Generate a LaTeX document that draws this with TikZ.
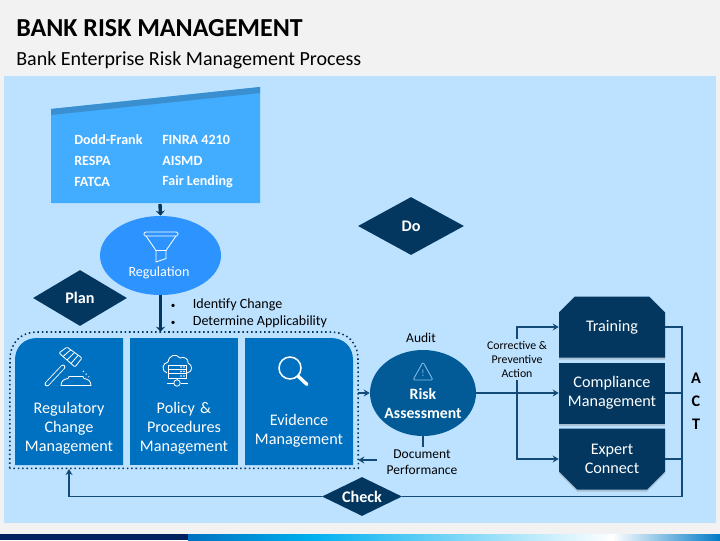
\documentclass[tikz,border=0pt]{standalone}
\usepackage{fontspec}
\setmainfont{Carlito}
\usetikzlibrary{
  arrows.meta,
  shapes.geometric,
  shapes.misc,
  shadows,
  calc,
  positioning
}
\definecolor{rmPage}{HTML}{F2F2F2}
\definecolor{rmPanel}{HTML}{BDE2FF}
\definecolor{rmSky}{HTML}{42ACFF}
\definecolor{rmBand}{HTML}{3A8FD0}
\definecolor{rmReg}{HTML}{2D93FF}
\definecolor{rmBlue}{HTML}{0070C0}
\definecolor{rmCyan}{HTML}{00B0F0}
\definecolor{rmRisk}{HTML}{025A96}
\definecolor{rmNavy}{HTML}{03375F}
\definecolor{rmLine}{HTML}{134A78}
\definecolor{rmStrip}{HTML}{002060}
\newcommand{\px}{0.025cm}
\tikzset{
  stage/.style={
    diamond, aspect=1.7, inner sep=0pt, fill=rmNavy, text=white,
    font=\fontsize{11.5}{14}\selectfont\bfseries
  },
  listtext/.style={anchor=west, inner sep=0pt, text=white, font=\fontsize{10}{12}\selectfont\bfseries},
  boxtext/.style={
    inner sep=0pt, text width=105*\px, align=center, text=white,
    font=\fontsize{11.5}{13.5}\selectfont
  },
  actbox/.style={
    chamfered rectangle, chamfered rectangle xsep=9*\px, chamfered rectangle ysep=9*\px,
    draw=none, fill=rmNavy, minimum width=106*\px, minimum height=61*\px, inner sep=0pt,
    align=center, text=white, font=\fontsize{11.5}{13.5}\selectfont,
    drop shadow={shadow xshift=0pt, shadow yshift=-2*\px, opacity=.35}
  },
  plainbox/.style={
    rectangle, fill=rmNavy, minimum width=106*\px, minimum height=61*\px, inner sep=0pt,
    align=center, text=white, font=\fontsize{11.5}{13.5}\selectfont,
    drop shadow={shadow xshift=0pt, shadow yshift=-2*\px, opacity=.35}
  },
  note/.style={inner sep=0pt, align=center, text=black, font=\fontsize{9.6}{11.5}\selectfont},
  flow/.style={-{Stealth[length=6*\px, width=7*\px]}, line width=1.4pt, rmLine},
  heavy/.style={-{Stealth[length=5*\px, width=9*\px]}, line width=2.4pt, rmNavy},
  netline/.style={line width=1.4pt, rmLine},
  icon/.style={draw=white, line width=.6pt, line join=round}
}
\begin{document}
\begin{tikzpicture}[x=\px, y=-\px]
  \useasboundingbox (0,0) rectangle (720,540);
  \fill[rmPage] (0,0) rectangle (720,540);
  \fill[rmPanel] (4,76) rectangle (716,523);
  \fill[rmStrip] (0,534) rectangle (188,540);
  \shade[left color=rmBlue, right color=rmCyan] (188,534) rectangle (312,540);
  \shade[left color=rmCyan, right color=white] (312,534) rectangle (612,540);
  \shade[left color=white, right color=rmBlue!85!rmCyan] (612,534) rectangle (720,540);

  \node[anchor=west, inner sep=0pt, font=\fontsize{18.45}{20}\selectfont\bfseries] (title) at (16,28) {BANK RISK MANAGEMENT};
  \node[anchor=west, inner sep=0pt, font=\fontsize{14.25}{16}\selectfont] (subtitle) at (16,60) {Bank Enterprise Risk Management Process};

  % law list
  \fill[rmSky] (51,109) -- (260,87) -- (260,203) -- (51,203) -- cycle;
  \fill[rmBand] (51,109) -- (260,87) -- (260,93) -- (51,115) -- cycle;
  \coordinate (laws) at (160,203);
  \node[listtext] (law1) at (74,140) {Dodd-Frank};
  \node[listtext] (law2) at (74,161) {RESPA};
  \node[listtext] (law3) at (74,182) {FATCA};
  \node[listtext] (law4) at (162,140) {FINRA 4210};
  \node[listtext] (law5) at (162,161) {AISMD};
  \node[listtext] (law6) at (162,182) {Fair Lending};

  % regulation
  \node[ellipse, fill=rmReg, minimum width=121*\px, minimum height=79*\px, inner sep=0pt] (regulation) at (160.5,255.5) {};
  \node[inner sep=0pt, text=white, font=\fontsize{10}{12}\selectfont] (regtext) at (159,273) {Regulation};
  \draw[icon, rounded corners=1pt] (144,232) rectangle (178,236);
  \draw[icon] (146,236) -- (156,250.5) -- (166,250.5) -- (176,236);
  \draw[icon] (156,250.5) -- (156,262) -- (166,258.5) -- (166,250.5);
  \draw[heavy] (laws) ++(0,1) -- (regulation.north);

  \node[stage, minimum width=94*\px, minimum height=56*\px] (plan) at (80,298) {Plan};
  \node[stage, minimum width=106*\px, minimum height=58*\px] (do) at (411,226) {Do};
  \node[stage, minimum width=80*\px, minimum height=39*\px] (check) at (362,496.5) {Check\hspace{3pt}};

  % plan group
  \node[minimum width=348*\px, minimum height=136*\px, inner sep=0pt] (group) at (184,400) {};
  \draw[line width=1.1pt, rmNavy, dotted] (group.south west) -- (10,360) .. controls (10,343) and (20,332) .. (38,332) -- (330,332) .. controls (348,332) and (358,343) .. (358,360) -- (group.south east) -- cycle;
  \fill[rmBlue] (15,465) -- (15,360) .. controls (15,347) and (24,338) .. (37,338) -- (123,338) -- (123,465) -- cycle;
  \fill[rmBlue] (130,338) rectangle (238,465);
  \fill[rmBlue] (245,465) -- (245,338) -- (331,338) .. controls (344,338) and (353,347) .. (353,360) -- (353,465) -- cycle;
  \node[boxtext] (regchange) at (69,428) {Regulatory\\Change\\Management};
  \node[boxtext] (policy) at (184,428) {Policy \&\\Procedures\\Management};
  \node[boxtext] (evidence) at (299,431) {Evidence\\Management};
  \draw[heavy] (regulation.south) -- (group.north -| regulation.south);
  \node[anchor=west, inner sep=0pt, align=left, font=\fontsize{10}{12}\selectfont] (bullets) at (170.5,313) {{\fontsize{6.5}{6}\selectfont\textbullet}\hspace{1.25em}Identify Change\\{\fontsize{6.5}{6}\selectfont\textbullet}\hspace{1.25em}Determine Applicability};

  % gavel
  \draw[icon, fill=rmBlue, rounded corners=.8pt] (67,347) -- (82,358) -- (75,367) -- (59,353) -- cycle;
  \foreach \t in {.25,.5,.75}{\draw[icon] ($(67,347)!\t!(82,358)$) -- ($(59,353)!\t!(75,367)$);}
  \draw[white, line width=3.4pt, line cap=round] (47,384) -- (63,367);
  \draw[rmBlue, line width=2.2pt, line cap=round] (47,384) -- (63,367);
  \draw[icon] (61,385.5) -- (91,385.5) .. controls (91,381) and (88,379) .. (84,378.5) -- (83,376.5) -- (69,376.5) -- (68,378.5) .. controls (64,379) and (61,381) .. (61,385.5) -- cycle;
  \draw[white, line width=.8pt, dotted] (83,371) -- (89,377);
  % cloud and rack
  \draw[icon] (167,373) .. controls (161,371) and (162,363) .. (168,362) .. controls (169,355) and (176,353) .. (180,358) .. controls (184,356) and (189,359) .. (188,363) .. controls (193,365) and (193,372) .. (187,373);
  \draw[icon, fill=rmBlue] (168,365) rectangle (186,378);
  \foreach \r in {369.3,373.7}{\draw[icon] (168,\r) -- (186,\r);}
  \foreach \r in {367,371.5,376}{\fill[white] (181,\r) circle (.6pt) (184,\r) circle (.6pt);}
  \draw[icon] (177,378) -- (177,380) (167,383) -- (173.5,383) (180.5,383) -- (188,383);
  \draw[icon] (177,383) circle (3.2*\px);
  % magnifier
  \draw[white, line width=1.1pt] (290,368) circle (11*\px);
  \draw[white, line width=2.4pt, line cap=round] (298,376) -- (307,384.5);

  % risk assessment
  \node[ellipse, fill=rmRisk, minimum width=106*\px, minimum height=86*\px, inner sep=0pt] (risk) at (423,393) {};
  \node[inner sep=0pt, align=center, text=white, font=\fontsize{11.2}{13.5}\selectfont\bfseries] (risktext) at (423,403.5) {Risk\\Assessment};
  \draw[rmPanel!70!rmBlue, line width=.6pt, line join=round, rounded corners=1pt] (423,362) -- (433,380) -- (413,380) -- cycle;
  \node[inner sep=0pt, text=rmPanel!70!rmBlue, font=\fontsize{7}{8}\selectfont] (warn) at (423,373) {!};
  \node[note] (audit) at (421,337.5) {Audit};
  \draw[flow] (group.east |- risk.west) -- (risk.west);
  \coordinate (back) at (group.east |- 0,460);
  \draw[flow] (risk.south) |- (back);
  \node[note, fill=rmPanel, inner xsep=10*\px, inner ysep=3*\px] (docperf) at (422,462) {Document\\Performance};

  % act boxes
  \node[actbox, chamfered rectangle corners={north west,north east}] (training) at (612,327) {Training};
  \node[plainbox] (compliance) at (612,393) {Compliance\\Management};
  \node[actbox, chamfered rectangle corners={south west,south east}] (expert) at (612,459) {Expert\\Connect};
  \coordinate (split) at (517,393);
  \draw[flow] (risk.east) -- (compliance.west);
  \draw[flow] (split) |- (training.west);
  \draw[flow] (split) |- (expert.west);
  \node[inner sep=2*\px, fill=rmPanel, align=center, font=\fontsize{8.4}{10.2}\selectfont] (corrective) at (517,359.5) {Corrective \&\\Preventive\\Action};

  % act loop
  \coordinate (actline) at (682,496.5);
  \draw[netline] (training.east) -| (actline);
  \draw[netline] (compliance.east) -- (compliance.east -| actline);
  \draw[netline] (expert.east) -- (expert.east -| actline);
  \draw[netline] (actline) -- (check.east);
  \coordinate (backup) at (69,469);
  \draw[flow] (check.west) -| (backup);
  \foreach \y/\c in {378/A,401/C,424/T}{\node[inner sep=0pt, font=\fontsize{11.5}{12}\selectfont\bfseries] (act\c) at (696,\y) {\c};}
\end{tikzpicture}
\end{document}
